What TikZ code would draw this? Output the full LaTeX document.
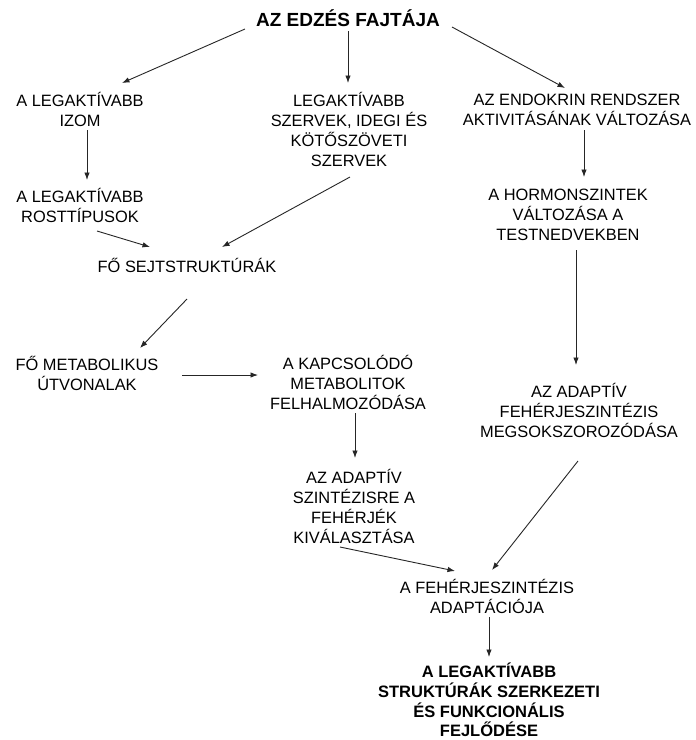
\documentclass[tikz,border=0pt]{standalone}
\usepackage{fontspec}
\setmainfont{Liberation Sans}
\usetikzlibrary{arrows.meta}
\begin{document}
\begin{tikzpicture}[x=1pt,y=-1pt,
  box/.style={align=center,inner sep=0pt,font=\fontsize{16.4}{20}\selectfont},
  headbox/.style={align=center,inner sep=0pt,font=\fontsize{19}{22}\selectfont\bfseries},
  endbox/.style={align=center,inner sep=0pt,font=\fontsize{16.5}{19.6}\selectfont\bfseries},
  arr/.style={draw=black!85,line width=0.9pt,-{Latex[length=7.5pt,width=5.5pt]}}]
\useasboundingbox[fill=white] (0,0) rectangle (696,740);

% nodes
\node[headbox] (top) at (348,18) {AZ EDZÉS FAJTÁJA};
\node[box] (izom) at (80,109.5) {A LEGAKTÍVABB\\IZOM};
\node[box] (szerv) at (349,129.5) {LEGAKTÍVABB\\SZERVEK, IDEGI ÉS\\KÖTŐSZÖVETI\\SZERVEK};
\node[box] (endo) at (577,109.5) {AZ ENDOKRIN RENDSZER\\AKTIVITÁSÁNAK VÁLTOZÁSA};
\node[box] (rost) at (80,205.5) {A LEGAKTÍVABB\\ROSTTÍPUSOK};
\node[box] (horm) at (568,215) {A HORMONSZINTEK\\VÁLTOZÁSA A\\TESTNEDVEKBEN};
\node[box] (sejt) at (187,265) {FŐ SEJTSTRUKTÚRÁK};
\node[box] (metab) at (87,373) {FŐ METABOLIKUS\\ÚTVONALAK};
\node[box] (kapcs) at (348,382.5) {A KAPCSOLÓDÓ\\METABOLITOK\\FELHALMOZÓDÁSA};
\node[box] (megs) at (579,410) {AZ ADAPTÍV\\FEHÉRJESZINTÉZIS\\MEGSOKSZOROZÓDÁSA};
\node[box] (kival) at (354,506) {AZ ADAPTÍV\\SZINTÉZISRE A\\FEHÉRJÉK\\KIVÁLASZTÁSA};
\node[box] (adapt) at (487,596.5) {A FEHÉRJESZINTÉZIS\\ADAPTÁCIÓJA};
\node[endbox] (fejl) at (489,700) {A LEGAKTÍVABB\\STRUKTÚRÁK SZERKEZETI\\ÉS FUNKCIONÁLIS\\FEJLŐDÉSE};

% connectors
\draw[arr] ([shift={(-103,11)}]top.center) -- ([shift={(42,-26.5)}]izom.center);
\draw[arr] ([shift={(0,13)}]top.center) -- ([shift={(-1,-46.5)}]szerv.center);
\draw[arr] ([shift={(104,9)}]top.center) -- ([shift={(-12,-21.5)}]endo.center);
\draw[arr] ([shift={(7,20.5)}]izom.center) -- ([shift={(7,-25.5)}]rost.center);
\draw[arr] ([shift={(7,20.5)}]endo.center) -- ([shift={(16,-38)}]horm.center);
\draw[arr] ([shift={(17,25.5)}]rost.center) -- ([shift={(-37,-18)}]sejt.center);
\draw[arr] ([shift={(1,47.5)}]szerv.center) -- ([shift={(35,-18)}]sejt.center);
\draw[arr] ([shift={(8,35)}]horm.center) -- ([shift={(-3,-45)}]megs.center);
\draw[arr] ([shift={(0,34)}]sejt.center) -- ([shift={(53,-25)}]metab.center);
\draw[arr] ([shift={(95,2)}]metab.center) -- ([shift={(-90,-7.5)}]kapcs.center);
\draw[arr] ([shift={(7,30.5)}]kapcs.center) -- ([shift={(1,-48)}]kival.center);
\draw[arr] ([shift={(-14,41)}]kival.center) -- ([shift={(-32,-25.5)}]adapt.center);
\draw[arr] ([shift={(-1,51)}]megs.center) -- ([shift={(5,-26.5)}]adapt.center);
\draw[arr] ([shift={(2,20.5)}]adapt.center) -- ([shift={(0,-43)}]fejl.center);
\end{tikzpicture}
\end{document}
